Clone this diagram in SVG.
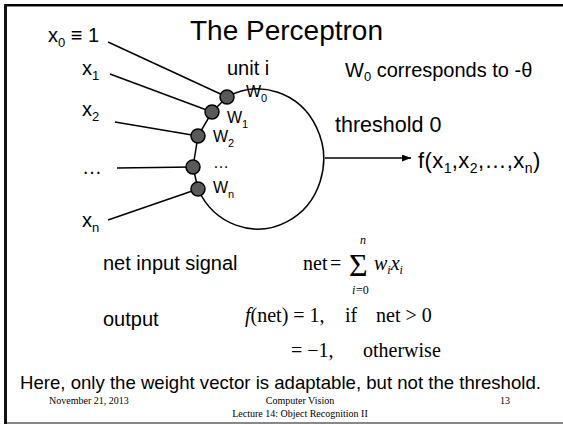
<svg xmlns="http://www.w3.org/2000/svg" width="563" height="424" viewBox="0 0 563 424">
<defs>
<style>
.s{font-family:"Liberation Sans",Arial,sans-serif;fill:#000}
.m{font-family:"Liberation Serif","Times New Roman",serif;fill:#000}
.l{font-size:20px}
.w{font-size:16px}
.e{stroke:#000;stroke-width:1.5;fill:none}
.dot{fill:#595959;stroke:#000;stroke-width:1.5}
.ft{font-family:"Liberation Serif","Times New Roman",serif;font-size:10px;fill:#000}
</style>
<marker id="ah" markerWidth="9" markerHeight="7" refX="9" refY="3.5" orient="auto" markerUnits="userSpaceOnUse"><path d="M0,0 L9,3.5 L0,7 z" fill="#000"/></marker>
</defs>
<rect x="0" y="0" width="563" height="424" fill="#fff"/>
<g id="frame">
<rect x="4" y="4" width="559" height="2" fill="#000"/>
<rect x="4" y="6" width="559" height="1" fill="#888"/>
<rect x="4" y="4" width="3" height="420" fill="#111"/>
<rect x="7" y="422" width="556" height="2" fill="#888"/>
</g>
<text id="title" class="s" x="190" y="40" font-size="28">The Perceptron</text>
<g id="connectors">
<line class="e" x1="108" y1="42" x2="227" y2="97"/>
<line class="e" x1="110" y1="74" x2="212" y2="112"/>
<line class="e" x1="115" y1="122" x2="198" y2="136"/>
<line class="e" x1="117" y1="168" x2="193" y2="167"/>
<line class="e" x1="108" y1="220" x2="198" y2="189"/>
<line class="e" x1="325" y1="158" x2="411" y2="158" marker-end="url(#ah)"/>
</g>
<g id="unit">
<path class="e" d="M227,97 A66,70 0 1 1 198,189 L193,167 L198,136 L212,112 Z"/>
<circle class="dot" cx="227" cy="97" r="7"/>
<circle class="dot" cx="212" cy="112" r="7"/>
<circle class="dot" cx="198" cy="136" r="7"/>
<circle class="dot" cx="193" cy="167" r="7"/>
<circle class="dot" cx="198" cy="189" r="7"/>
<text class="s l" x="227" y="75">unit i</text>
<text class="s w" x="246" y="97">W<tspan font-size="11" dy="5">0</tspan></text>
<text class="s w" x="227" y="123">W<tspan font-size="11" dy="5">1</tspan></text>
<text class="s w" x="213" y="142">W<tspan font-size="11" dy="5">2</tspan></text>
<text class="s w" x="213" y="168">…</text>
<text class="s w" x="213" y="193">W<tspan font-size="11" dy="5">n</tspan></text>
</g>
<g id="in0"><text class="s l" x="48" y="42">x<tspan font-size="13" dy="5">0</tspan><tspan dy="-5"> ≡ 1</tspan></text></g>
<g id="in1"><text class="s l" x="82" y="75">x<tspan font-size="13" dy="5">1</tspan></text></g>
<g id="in2"><text class="s l" x="82" y="116">x<tspan font-size="13" dy="5">2</tspan></text></g>
<g id="indots"><text class="s l" x="82" y="174">…</text></g>
<g id="inn"><text class="s l" x="82" y="227">x<tspan font-size="13" dy="5">n</tspan></text></g>
<g id="out"><text class="s" font-size="22" letter-spacing="0.4" x="418" y="168">f(x<tspan font-size="14" dy="5">1</tspan><tspan dy="-5">,x</tspan><tspan font-size="14" dy="5">2</tspan><tspan dy="-5">,…,x</tspan><tspan font-size="14" dy="5">n</tspan><tspan dy="-5">)</tspan></text></g>
<text class="s" font-size="21.5" x="335" y="132">threshold 0</text>
<text class="s l" x="345" y="77">W<tspan font-size="13" dy="4">0</tspan><tspan dy="-4"> corresponds to -θ</tspan></text>
<text class="s l" x="103" y="270">net input signal</text>
<text class="s l" x="103" y="326">output</text>
<g id="eq1" class="m" font-size="20">
<text x="303" y="270">net</text>
<text x="330" y="270">=</text>
<text x="349" y="276" font-size="32">Σ</text>
<text x="360" y="244" font-size="12" font-style="italic">n</text>
<text x="352" y="294" font-size="12" font-style="italic">i</text>
<text x="356" y="294" font-size="12">=0</text>
<text x="374" y="270" font-style="italic">w<tspan font-size="12" dy="4">i</tspan><tspan dy="-4">x</tspan><tspan font-size="12" dy="4">i</tspan></text>
</g>
<g id="eq2" class="m" font-size="20">
<text x="245" y="322"><tspan font-style="italic">f</tspan>(net) = 1,</text>
<text x="345" y="322">if</text>
<text x="376" y="322">net &gt; 0</text>
<text x="291" y="357">= −1,</text>
<text x="363" y="357">otherwise</text>
</g>
<text class="s" font-size="18.6" x="20" y="389">Here, only the weight vector is adaptable, but not the threshold.</text>
<g id="footer">
<text class="ft" x="49" y="404">November 21, 2013</text>
<text class="ft" x="300" y="404" text-anchor="middle">Computer Vision</text>
<text class="ft" x="500" y="404">13</text>
<text class="ft" x="300" y="417" text-anchor="middle">Lecture 14: Object Recognition II</text>
</g>
</svg>
